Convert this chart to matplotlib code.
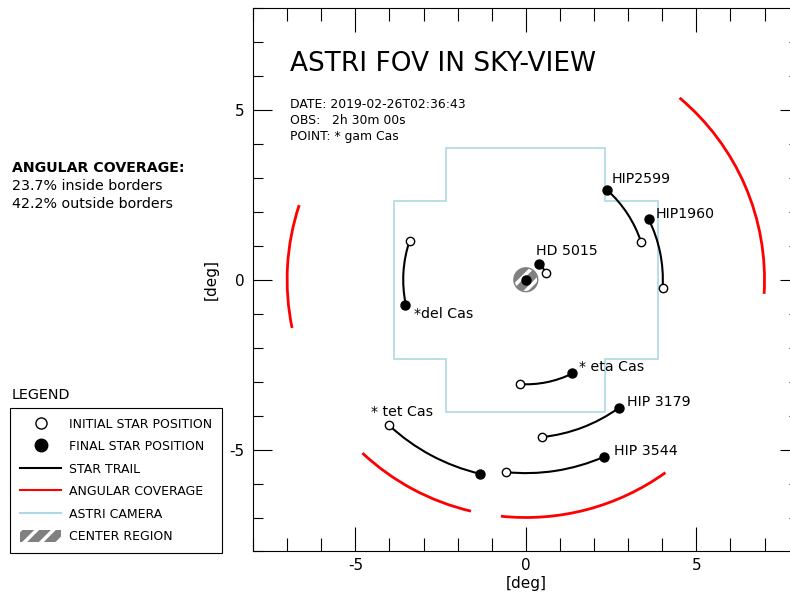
import numpy as np
import matplotlib
matplotlib.use("Agg")
import matplotlib.pyplot as plt
from matplotlib.patches import Arc, Circle, Patch, Polygon
from matplotlib.lines import Line2D
from matplotlib.ticker import MultipleLocator

plt.rcParams['font.family'] = ['DejaVu Sans']
plt.rcParams['axes.unicode_minus'] = False
plt.rcParams['hatch.color'] = 'white'
plt.rcParams['hatch.linewidth'] = 2.5

# star trails: initial and final positions [deg]
star_names = ['*del Cas', 'HD 5015', 'HIP2599', 'HIP1960',
              '* eta Cas', 'HIP 3179', 'HIP 3544', '* tet Cas']
x_init = [-3.39, 0.58, 3.39, 4.01, -0.18, 0.47, -0.58, -4.00]
y_init = [1.14, 0.21, 1.11, -0.23, -3.08, -4.63, -5.66, -4.28]
x_final = [-3.54, 0.38, 2.37, 3.60, 1.35, 2.72, 2.28, -1.35]
y_final = [-0.73, 0.47, 2.64, 1.79, -2.76, -3.78, -5.22, -5.72]

# pointing star (center)
point_x, point_y = 0.0, 0.0
center_radius = 0.35

# angular coverage arcs (radius, start/end angle in deg)
coverage_r = 7.0
arc_start = [161.7, 226.8, 264.0, -3.4]
arc_end = [191.7, 256.7, 305.8, 49.9]

# camera outline
cam_outer = 3.88
cam_inner = 2.33

inside_pct = 23.7
outside_pct = 42.2

# label placement (layout)
label_pos = [(-3.27, -1.0), (0.29, 0.85), (2.51, 2.96), (3.80, 1.94),
             (1.55, -2.58), (2.98, -3.61), (2.60, -5.04), (-4.53, -3.90)]

fig = plt.figure(figsize=(7.9, 6.01), dpi=100)
ax = fig.add_axes([0.3203, 0.0824, 0.6906, 0.9043])
ax.set_xlim(-8, 8)
ax.set_ylim(-8, 8)

# camera
o, i = cam_outer, cam_inner
cam = Polygon([(-i, o), (i, o), (i, i), (o, i), (o, -i), (i, -i), (i, -o),
               (-i, -o), (-i, -i), (-o, -i), (-o, i), (-i, i)],
              closed=True, fill=False, edgecolor='lightblue', lw=1.2)
ax.add_patch(cam)

# coverage arcs
for a0, a1 in zip(arc_start, arc_end):
    ax.add_patch(Arc((0, 0), 2 * coverage_r, 2 * coverage_r, theta1=a0, theta2=a1,
                     color='red', lw=2))

# center region
ax.add_patch(Circle((point_x, point_y), center_radius, facecolor='gray',
                    hatch='//', zorder=3))
ax.add_patch(Circle((point_x, point_y), center_radius, fill=False,
                    edgecolor='gray', lw=1, zorder=3))
ax.plot(point_x, point_y, 'o', color='black', ms=6.5, zorder=5)

# star trails
for k in range(len(star_names)):
    r0 = np.hypot(x_init[k], y_init[k])
    r1 = np.hypot(x_final[k], y_final[k])
    r = (r0 + r1) / 2
    t0 = np.degrees(np.arctan2(y_init[k], x_init[k]))
    t1 = np.degrees(np.arctan2(y_final[k], x_final[k]))
    ax.add_patch(Arc((0, 0), 2 * r, 2 * r, theta1=t0, theta2=t1,
                     color='black', lw=1.5, zorder=4))
ax.plot(x_init, y_init, 'o', mfc='white', mec='black', mew=1, ms=6, ls='none', zorder=5)
ax.plot(x_final, y_final, 'o', color='black', ms=6.5, ls='none', zorder=5)

for name, (lx, ly) in zip(star_names, label_pos):
    ax.text(lx, ly, name, fontsize=10.2, ha='left', va='center')

# titles
ax.text(-6.93, 6.36, 'ASTRI FOV IN SKY-VIEW', fontsize=19, ha='left', va='center')
info = ['DATE: 2019-02-26T02:36:43', 'OBS:   2h 30m 00s', 'POINT: * gam Cas']
for n, line in enumerate(info):
    ax.text(-6.93, 5.16 - n * 0.47, line, fontsize=8.9, ha='left', va='center')

# axes style
ax.set_xticks([-5, 0, 5])
ax.set_yticks([-5, 0, 5])
ax.xaxis.set_minor_locator(MultipleLocator(1))
ax.yaxis.set_minor_locator(MultipleLocator(1))
ax.tick_params(axis='x', which='major', direction='in', length=17, width=0.8,
               top=True, labelsize=11, pad=5)
ax.tick_params(axis='x', which='minor', direction='in', length=9.4, width=0.8, top=True)
ax.tick_params(axis='y', which='major', direction='in', length=13.7, width=0.8,
               right=True, labelsize=11, pad=6)
ax.tick_params(axis='y', which='minor', direction='in', length=7.2, width=0.8, right=True)
ax.set_xlabel('[deg]', fontsize=11, labelpad=2)
ax.set_ylabel('[deg]', fontsize=11, labelpad=8)

# coverage text
fig.text(12 / 790, 1 - 168 / 601, 'ANGULAR COVERAGE:', fontsize=10.2,
         fontweight='bold', va='center')
fig.text(12 / 790, 1 - 186 / 601, f'{inside_pct}% inside borders', fontsize=10.3, va='center')
fig.text(12 / 790, 1 - 204 / 601, f'{outside_pct}% outside borders', fontsize=10.3, va='center')

# legend
fig.text(12 / 790, 1 - 395 / 601, 'LEGEND', fontsize=10.4, va='center')
handles = [
    Line2D([], [], marker='o', ls='none', mfc='white', mec='black', ms=8),
    Line2D([], [], marker='o', ls='none', color='black', ms=9),
    Line2D([], [], color='black', lw=1.5),
    Line2D([], [], color='red', lw=1.5),
    Line2D([], [], color='lightblue', lw=1.5),
    Patch(facecolor='gray', hatch='//'),
]
labels = ['INITIAL STAR POSITION', 'FINAL STAR POSITION', 'STAR TRAIL',
          'ANGULAR COVERAGE', 'ASTRI CAMERA', 'CENTER REGION']
leg = fig.legend(handles, labels, loc='lower left', bbox_to_anchor=(10 / 790, 48 / 601),
                 fontsize=9, fancybox=False, edgecolor='black', framealpha=1,
                 handlelength=3.3, handleheight=1.1, handletextpad=0.6,
                 labelspacing=0.73, borderaxespad=0, borderpad=0.8)
leg.get_frame().set_linewidth(0.8)

fig.savefig('out.png', dpi=100)
